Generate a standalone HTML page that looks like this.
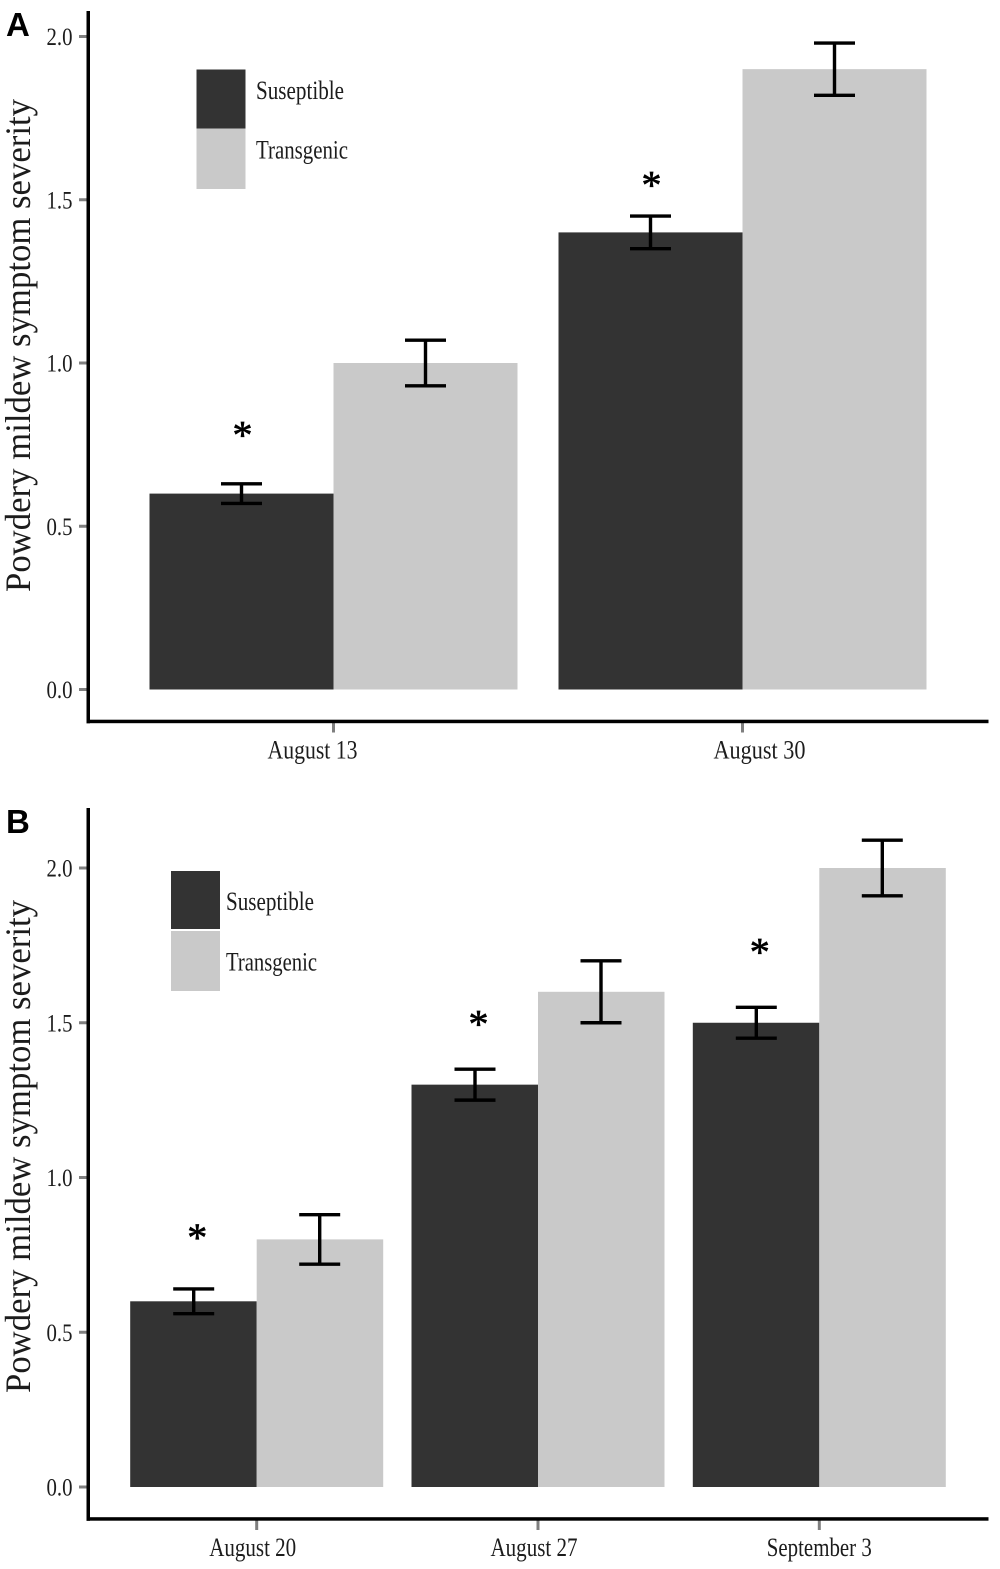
<!DOCTYPE html>
<html lang="en">
<head>
<meta charset="utf-8">
<title>Powdery mildew symptom severity</title>
<style>
html,body{margin:0;padding:0;background:#fff;}
svg{display:block;}
text{font-family:"Liberation Serif",serif;fill:#1c1c1c;}
.panel-letter{font-family:"Liberation Sans",sans-serif;font-weight:bold;font-size:33px;fill:#000;}
</style>
</head>
<body>
<svg id="chart" xmlns="http://www.w3.org/2000/svg" width="1000" height="1569" viewBox="0 0 1000 1569">
  <rect x="0" y="0" width="1000" height="1569" fill="#fff"/>
  <text class="panel-letter" x="6" y="36">A</text>
  <text class="panel-letter" x="6" y="833">B</text>

  <g>
    <rect x="196.5" y="69.5" width="49" height="59" fill="#333333"/>
    <rect x="196.5" y="128.5" width="49" height="60.5" fill="#c9c9c9"/>
    <text x="256" y="99" font-size="26" textLength="88" lengthAdjust="spacingAndGlyphs">Suseptible</text>
    <text x="256" y="158.5" font-size="26" textLength="92" lengthAdjust="spacingAndGlyphs">Transgenic</text>
  </g>
  <g>
    <rect x="171" y="871" width="49" height="58" fill="#333333"/>
    <rect x="171" y="931" width="49" height="60" fill="#c9c9c9"/>
    <text x="226" y="910" font-size="26" textLength="88" lengthAdjust="spacingAndGlyphs">Suseptible</text>
    <text x="226" y="970.5" font-size="26" textLength="91" lengthAdjust="spacingAndGlyphs">Transgenic</text>
  </g>
</svg>
<script>
const yTickValues = [0, 0.5, 1, 1.5, 2];
const yTickLabels = ["0.0", "0.5", "1.0", "1.5", "2.0"];

const categoriesA = ["August 13", "August 30"];
const susceptibleA = [0.6, 1.4];
const transgenicA = [1.0, 1.9];
const susceptibleLowA = [0.57, 1.35];
const susceptibleHighA = [0.63, 1.45];
const transgenicLowA = [0.93, 1.82];
const transgenicHighA = [1.07, 1.98];
const starLevelsA = [0.79, 1.556];

const categoriesB = ["August 20", "August 27", "September 3"];
const susceptibleB = [0.6, 1.3, 1.5];
const transgenicB = [0.8, 1.6, 2.0];
const susceptibleLowB = [0.56, 1.25, 1.45];
const susceptibleHighB = [0.64, 1.35, 1.55];
const transgenicLowB = [0.72, 1.5, 1.91];
const transgenicHighB = [0.88, 1.7, 2.09];
const starLevelsB = [0.817, 1.507, 1.74];

const svg = document.getElementById('chart');
const NS = 'http://www.w3.org/2000/svg';

function make(tag, parent, props) {
  const el = document.createElementNS(NS, tag);
  for (const k in props) el.setAttribute(k, props[k]);
  parent.appendChild(el);
  return el;
}

function drawPanel(p) {
  const yScale = v => p.zeroY - v * p.unitY;
  const xCenter = i => p.firstX + i * p.stepX;
  const root = make('g', svg, {});
  
  

  // bars
  p.categories.forEach((c, i) => {
    const cx = xCenter(i);
    const barS = make('rect', root, {
      x: cx - p.barW, y: yScale(p.susceptible[i]), width: p.barW,
      height: p.zeroY - yScale(p.susceptible[i]), fill: '#333333'
    });
    
    
    const barT = make('rect', root, {
      x: cx, y: yScale(p.transgenic[i]), width: p.barW,
      height: p.zeroY - yScale(p.transgenic[i]), fill: '#c9c9c9'
    });
    
    
  });

  // error bars
  function whisker(x, lo, hi, name) {
    const g = make('g', root, { stroke: '#000', 'stroke-width': 3.4, fill: 'none' });
    
    
    make('line', g, { x1: x, x2: x, y1: yScale(lo), y2: yScale(hi) });
    make('line', g, { x1: x - 20.5, x2: x + 20.5, y1: yScale(lo), y2: yScale(lo) });
    make('line', g, { x1: x - 20.5, x2: x + 20.5, y1: yScale(hi), y2: yScale(hi) });
  }
  p.categories.forEach((c, i) => {
    const cx = xCenter(i);
    whisker(cx - p.whiskerOffset, p.sLow[i], p.sHigh[i], 'error-bar-susceptible-' + p.id + '-' + i);
    whisker(cx + p.whiskerOffset, p.tLow[i], p.tHigh[i], 'error-bar-transgenic-' + p.id + '-' + i);
    const star = make('text', root, {
      x: cx - p.starOffset, y: yScale(p.stars[i]) + 17, 'font-size': 40, 'text-anchor': 'middle',
      style: 'fill:#000;stroke:#000;stroke-width:0.7px'
    });
    
    
    star.textContent = '*';
  });

  // y ticks
  yTickValues.forEach((v, i) => {
    const t = make('rect', root, { x: 79, y: yScale(v) - 1.5, width: 9, height: 3, fill: '#7f7f7f' });
    
    
    const l = make('text', root, {
      x: 46.5, y: yScale(v) + 8.5, 'font-size': 25, textLength: 26, lengthAdjust: 'spacingAndGlyphs'
    });
    
    
    l.textContent = yTickLabels[i];
  });

  // x ticks
  p.categories.forEach((c, i) => {
    const cx = xCenter(i);
    const t = make('rect', root, { x: cx - 1.5, y: p.axisY, width: 3, height: 11, fill: '#7f7f7f' });
    
    
    const l = make('text', root, {
      x: cx + p.labelNudge[i], y: p.axisY + p.labelDrop, 'font-size': 26, 'text-anchor': 'middle',
      textLength: p.labelWidths[i], lengthAdjust: 'spacingAndGlyphs'
    });
    
    
    l.textContent = c;
  });

  // axes
  const ya = make('rect', root, { x: 86.5, y: p.axisTop, width: 3.5, height: p.axisY - p.axisTop + 1.8, fill: '#000' });
  
  
  const xa = make('rect', root, { x: 86.5, y: p.axisY - 1.8, width: 902, height: 3.5, fill: '#000' });
  
  

  // y title
  const title = make('text', root, {
    transform: 'translate(30,' + p.titleMid + ') rotate(-90)', 'font-size': 36, 'text-anchor': 'middle',
    textLength: 493, lengthAdjust: 'spacingAndGlyphs'
  });
  
  
  title.textContent = 'Powdery mildew symptom severity';
}

drawPanel({
  id: 'a', zeroY: 689.5, unitY: 326.5, firstX: 333.5, stepX: 409, barW: 184,
  whiskerOffset: 92, starOffset: 91, axisTop: 11, axisY: 721.5, labelDrop: 37,
  labelNudge: [-21, 17], labelWidths: [90, 92], titleMid: 345.5,
  categories: categoriesA, susceptible: susceptibleA, transgenic: transgenicA,
  sLow: susceptibleLowA, sHigh: susceptibleHighA, tLow: transgenicLowA, tHigh: transgenicHighA, stars: starLevelsA
});
drawPanel({
  id: 'b', zeroY: 1487, unitY: 309.5, firstX: 256.7, stepX: 281.3, barW: 126.5,
  whiskerOffset: 63, starOffset: 59.5, axisTop: 808, axisY: 1519, labelDrop: 37,
  labelNudge: [-4, -4, 0], labelWidths: [87, 87, 105], titleMid: 1146.5,
  categories: categoriesB, susceptible: susceptibleB, transgenic: transgenicB,
  sLow: susceptibleLowB, sHigh: susceptibleHighB, tLow: transgenicLowB, tHigh: transgenicHighB, stars: starLevelsB
});
</script>
</body>
</html>
